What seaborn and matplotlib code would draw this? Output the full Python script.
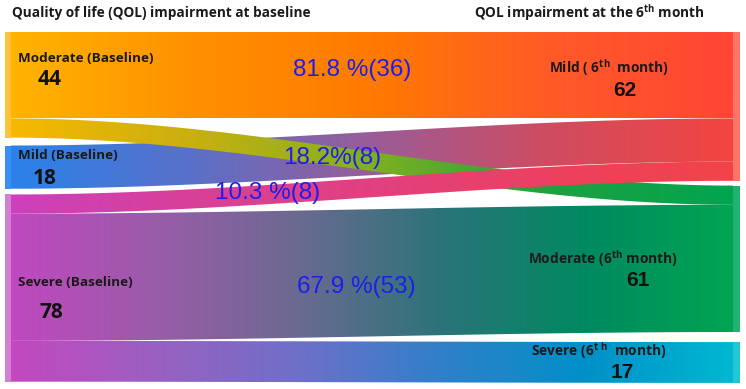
import numpy as np
import matplotlib
matplotlib.use("Agg")
import matplotlib.pyplot as plt
from matplotlib.patches import Polygon, Rectangle
import seaborn as sns

# ---------------- data ----------------
left_nodes = ["Moderate", "Mild", "Severe"]
left_totals = [44, 18, 78]
right_nodes = ["Mild", "Moderate", "Severe"]
right_totals = [62, 61, 17]
flow_sources = ["Moderate", "Moderate", "Mild", "Severe", "Severe", "Severe"]
flow_targets = ["Mild", "Moderate", "Mild", "Mild", "Moderate", "Severe"]
flow_values = [36, 8, 18, 8, 53, 17]
flow_labels = ["81.8 %(36)", "18.2%(8)", "", "10.3 %(8)", "67.9 %(53)", ""]
left_labels = ["Moderate (Baseline)", "Mild (Baseline)", "Severe (Baseline)"]
right_labels = [r"Mild ( 6$^{\mathbf{th}}$  month)", r"Moderate (6$^{\mathbf{th}}$ month)",
                r"Severe (6$^{\mathbf{t\ h}}$  month)"]
title_left = "Quality of life (QOL) impairment at baseline"
title_right = r"QOL impairment at the 6$^{\mathbf{th}}$ month"

# ---------------- style ----------------
sns.set_theme(style="white")
plt.rcParams["font.family"] = ["Open Sans", "DejaVu Sans"]
plt.rcParams["mathtext.fontset"] = "custom"
plt.rcParams["mathtext.rm"] = "Open Sans"
plt.rcParams["mathtext.bf"] = "Open Sans:bold"

flow_colors = [
    ["#FFB400", "#FF9000", "#FF7A00", "#FF5A28", "#FF4535"],
    ["#F8B800", "#C8B010", "#7FB020", "#20A040", "#00A550"],
    ["#2A82EA", "#5A70C8", "#9A5C98", "#D04C60", "#F24540"],
    ["#CC40BC", "#D84098", "#E24080", "#EC4060", "#F24448"],
    ["#C048C0", "#9A5CA8", "#6A6A90", "#2A7478", "#008A60", "#00A552"],
    ["#C448C0", "#9A60C0", "#6E70C8", "#2F80C8", "#0090C8", "#00B8D2"],
]
left_bar_colors = ["#FFC23A", "#3A90F2", "#D27ED2"]
right_bar_colors = ["#FF7464", "#22B270", "#22C6D8"]

# ---------------- layout ----------------
W, H = 746, 389
top = 32
scale = 2.4          # px per patient
left_gaps = [3.3, 2.4]
right_gaps = [2.0, 4.2]
xl0, xl1 = 5, 11     # left node bars
xr0, xr1 = 733, 740  # right node bars

def node_positions(totals, gaps):
    pos, y = [], 0.0
    for i, t in enumerate(totals):
        pos.append(y)
        y += t + (gaps[i] if i < len(gaps) else 0)
    return pos

lpos = node_positions(left_totals, left_gaps)
rpos = node_positions(right_totals, right_gaps)

fig = plt.figure(figsize=(W / 100, H / 100), dpi=100)
ax = fig.add_axes([0, 0, 1, 1])
ax.set_axis_off()

# stacking offsets
l_off = {n: lpos[i] for i, n in enumerate(left_nodes)}
r_off = {n: rpos[i] for i, n in enumerate(right_nodes)}
order_left = sorted(range(len(flow_values)),
                    key=lambda k: (left_nodes.index(flow_sources[k]), right_nodes.index(flow_targets[k])))
order_right = sorted(range(len(flow_values)),
                     key=lambda k: (right_nodes.index(flow_targets[k]), left_nodes.index(flow_sources[k])))
seg_l, seg_r = {}, {}
for k in order_left:
    s = flow_sources[k]
    seg_l[k] = (l_off[s], l_off[s] + flow_values[k])
    l_off[s] += flow_values[k]
for k in order_right:
    t = flow_targets[k]
    seg_r[k] = (r_off[t], r_off[t] + flow_values[k])
    r_off[t] += flow_values[k]

def py(u):
    return top + u * scale

draw_order = [5, 4, 2, 0, 1, 3]
for k in draw_order:
    a0, a1 = seg_l[k]
    b0, b1 = seg_r[k]
    xs = np.linspace(xl1, xr0, 300)
    t = (xs - xl1) / (xr0 - xl1)
    s = t * t * (3 - 2 * t)
    topc = py(a0 + (b0 - a0) * s)
    botc = py(a1 + (b1 - a1) * s)
    verts = np.concatenate([np.c_[xs, topc], np.c_[xs[::-1], botc[::-1]]])
    poly = Polygon(verts, closed=True, facecolor="none", edgecolor="none")
    ax.add_patch(poly)
    cmap = sns.blend_palette(flow_colors[k], as_cmap=True)
    grad = np.linspace(0, 1, 512)[None, :]
    im = ax.imshow(grad, cmap=cmap, extent=[xl1, xr0, botc.max(), topc.min()],
                   aspect="auto", interpolation="bilinear", zorder=2 + draw_order.index(k))
    im.set_clip_path(poly)

for i, n in enumerate(left_nodes):
    ax.add_patch(Rectangle((xl0, py(lpos[i])), xl1 - xl0, left_totals[i] * scale,
                           color=left_bar_colors[i], lw=0, zorder=10))
for i, n in enumerate(right_nodes):
    ax.add_patch(Rectangle((xr0, py(rpos[i])), xr1 - xr0, right_totals[i] * scale,
                           color=right_bar_colors[i], lw=0, zorder=10))

ax.set_xlim(0, W)
ax.set_ylim(H, 0)

# ---------------- text ----------------
ax.text(12, 13, title_left, fontsize=9.8, fontweight="bold", color="#1a1a1a", va="center", ha="left", zorder=20)
ax.text(589, 13, title_right, fontsize=9.8, fontweight="bold", color="#1a1a1a", va="center", ha="center", zorder=20)

lab_pos = [(18, 58), (18, 155), (18, 283)]
num_pos = [(50, 79), (45, 178), (51, 313)]
for i in range(3):
    ax.text(*lab_pos[i], left_labels[i], fontsize=9.7, fontweight="bold", color="#1a1a1a",
            va="center", ha="left", zorder=20)
    ax.text(*num_pos[i], str(left_totals[i]), fontsize=15, fontweight="bold", color="#111111",
            va="center", ha="center", zorder=20)

rlab_pos = [(609, 68), (603, 259), (599, 351)]
rnum_pos = [(625, 90), (638, 281), (622, 372)]
for i in range(3):
    ax.text(*rlab_pos[i], right_labels[i], fontsize=9.9, fontweight="bold", color="#1a1a1a",
            va="center", ha="center", zorder=20)
    ax.text(*rnum_pos[i], str(right_totals[i]), fontsize=15, fontweight="bold", color="#111111",
            va="center", ha="center", zorder=20, family=["Liberation Sans", "DejaVu Sans"])

flab_pos = {0: (352, 70), 1: (332, 158), 3: (268, 193), 4: (356, 287)}
for k, (x, y) in flab_pos.items():
    ax.text(x, y, flow_labels[k], fontsize=17.5, color="#1E1EEA", va="center", ha="center",
            zorder=20, family=["Liberation Sans", "DejaVu Sans"])

fig.savefig("out.png", dpi=100)
